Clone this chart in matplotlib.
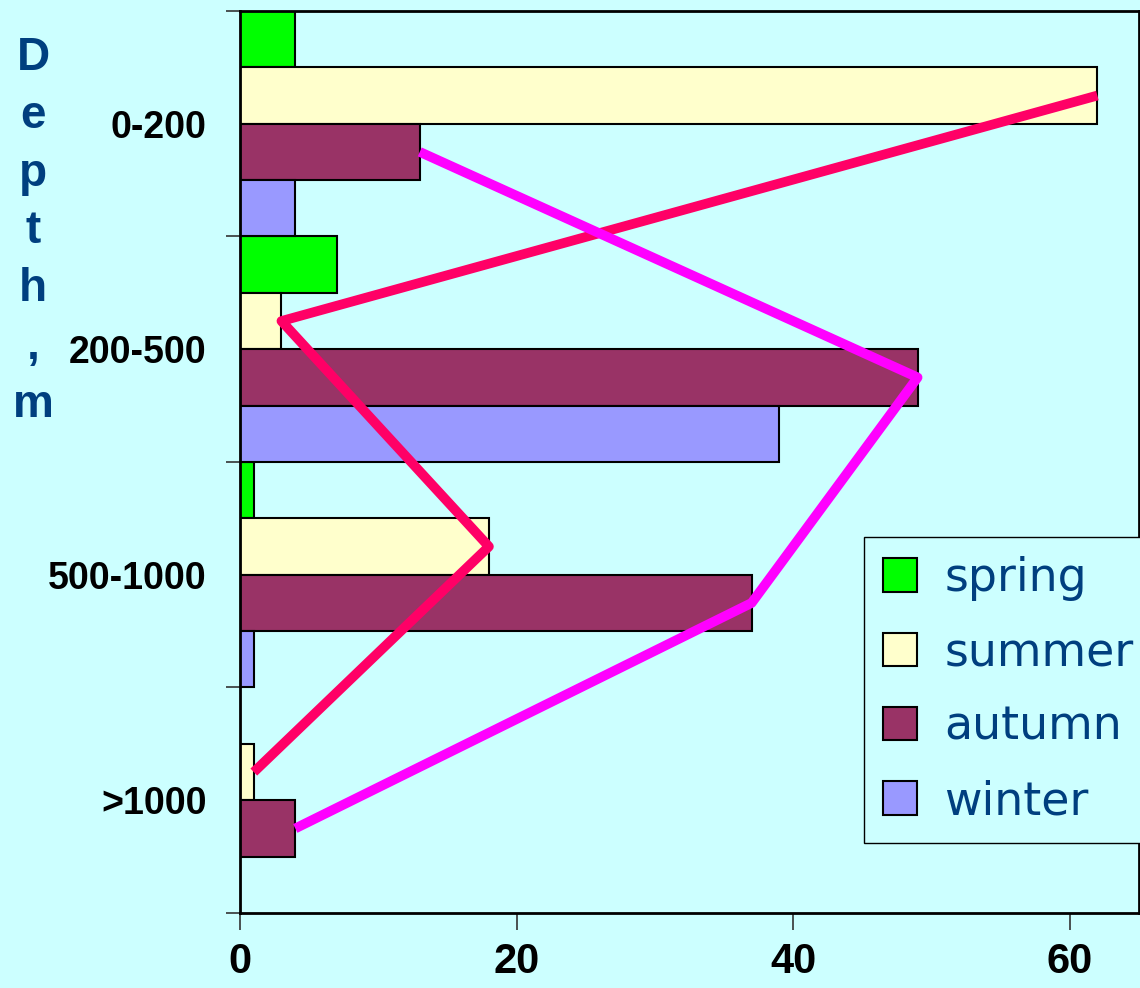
import numpy as np
import matplotlib.pyplot as plt
from matplotlib.ticker import FixedLocator

# glubina (m) i sezony
depths = ['0-200', '200-500', '500-1000', '>1000']
seasons = ['spring', 'summer', 'autumn', 'winter']
spring = [4, 7, 1, 0]
summer = [62, 3, 18, 1]
autumn = [13, 49, 37, 4]
winter = [4, 39, 1, 0]
x_ticks = [0, 20, 40, 60]

colors = ['#00FF00', '#FFFFCC', '#993366', '#9999FF']
bg = '#CCFFFF'
label_blue = '#003F7F'

fig = plt.figure(figsize=(11.4, 9.88), dpi=100, facecolor=bg)
ax = fig.add_axes([0.2105, 0.0759, 0.7885, 0.913])
ax.set_facecolor(bg)

y = np.arange(len(depths))
h = 0.25
series = [spring, summer, autumn, winter]
offsets = [-0.375, -0.125, 0.125, 0.375]
for vals, off, col, name in zip(series, offsets, colors, seasons):
    ax.barh(y + off, vals, height=h, color=col, edgecolor='black',
            linewidth=1.5, label=name, zorder=2)

# linii po kontsam stolbtsov leto i osen'
ax.plot(summer, y + offsets[1], color='#FF0066', lw=7, zorder=3,
        solid_capstyle='butt')
ax.plot(autumn, y + offsets[2], color='#FF00FF', lw=7, zorder=3,
        solid_capstyle='butt')

ax.set_xlim(0, 65)
ax.set_ylim(3.5, -0.5)

ax.set_yticks(y)
ax.set_yticklabels(depths)
ax.yaxis.set_minor_locator(FixedLocator(np.arange(-0.5, 4.0, 1.0)))
ax.tick_params(axis='y', which='major', length=0, pad=24)
ax.tick_params(axis='y', which='minor', length=10, width=1.2, color='#333333')
ax.set_xticks(x_ticks)
ax.tick_params(axis='x', length=12, width=1.2, pad=9, color='#333333')

for lbl in ax.get_yticklabels():
    lbl.set_fontsize(27)
    lbl.set_fontweight('bold')
    lbl.set_family('Liberation Sans')
for lbl in ax.get_xticklabels():
    lbl.set_fontsize(30)
    lbl.set_fontweight('bold')
    lbl.set_family(['Liberation Sans Narrow', 'Liberation Sans'])

for s in ax.spines.values():
    s.set_linewidth(2)
    s.set_color('black')

# vertikal'naya podpis' osi po bukvam
letters = list('Depth,m')
for i, ch in enumerate(letters):
    fig.text(0.029, 1 - (58 + i * 57.8) / 988, ch, fontsize=33,
             fontweight='bold', color=label_blue, ha='center', va='center',
             family='Liberation Sans')

leg = ax.legend(loc='upper left', bbox_to_anchor=(0.694, 0.417),
                prop={'family': 'DejaVu Sans', 'size': 33},
                labelcolor=label_blue, frameon=True, fancybox=False,
                edgecolor='black', facecolor=bg, framealpha=1,
                handlelength=0.74, handleheight=0.74, handletextpad=0.6,
                labelspacing=0.64, borderpad=0.42, borderaxespad=0)
leg.get_frame().set_linewidth(1)
leg.set_zorder(5)

fig.savefig('out.png', dpi=100, facecolor=bg)
